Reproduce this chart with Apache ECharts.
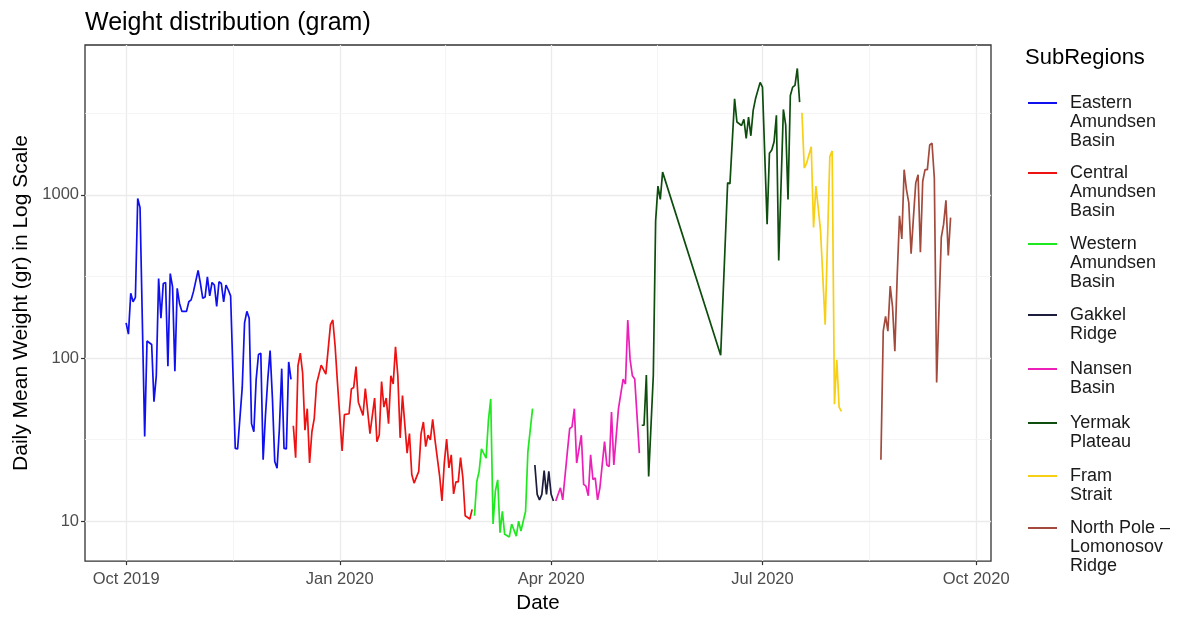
<!DOCTYPE html>
<html><head><meta charset="utf-8">
<script src="https://cdn.jsdelivr.net/npm/echarts@6/dist/echarts.min.js"></script>
<style>html,body{margin:0;padding:0;background:#fff}#c{width:1179px;height:619px}</style>
</head><body><div id="c"></div>
<script>
// ---- data: [day offset from 2019-10-01, daily mean weight (g)] ----
const START = [2019, 9, 1];
const regionNames = ['Eastern Amundsen Basin','Central Amundsen Basin','Western Amundsen Basin','Gakkel Ridge','Nansen Basin','Yermak Plateau','Fram Strait','North Pole – Lomonosov Ridge'];
const regionLabels = ['Eastern\nAmundsen\nBasin','Central\nAmundsen\nBasin','Western\nAmundsen\nBasin','Gakkel\nRidge','Nansen\nBasin','Yermak\nPlateau','Fram\nStrait','North Pole –\nLomonosov\nRidge'];
const regionColors = ['#1010ee','#ee1111','#1ee81e','#1c1c3c','#ec1fb8','#0d4d0d','#f7cf14','#a24a3c'];

const eastern = [[0,164],[1,140],[2,249],[3,221],[4,235],[5,950],[6,834],[8,33],[9,127],[11,121],[12,54],[13,78],[14,307],[15,175],[16,286],[17,290],[18,89],[19,329],[20,273],[21,83],[22,267],[23,216],[24,193],[26,193],[27,221],[28,227],[29,255],[31,344],[32,286],[33,232],[34,236],[35,314],[36,240],[37,290],[38,280],[39,207],[40,293],[41,286],[42,221],[43,280],[44,261],[45,240],[47,27.9],[48,27.7],[50,66],[51,164],[52,193],[53,175],[54,39.6],[55,35.3],[56,74],[57,105],[58,107],[59,23.8],[60,44.4],[61,74],[62,111],[63,56.6],[64,23.2],[65,21.1],[66,37],[67,86],[68,27.9],[69,27.7],[70,94.6],[71,74]];
const central = [[72,38.4],[73,24.5],[74,89.6],[75,107],[76,81],[77,36.1],[78,48.9],[79,22.7],[80,35.3],[81,42.5],[82,69.2],[84,90.4],[86,79.6],[88,160],[89,171],[90,118],[91,70.8],[93,26.9],[94,45],[96,45.5],[97,64.6],[98,66],[99,88.5],[100,53.6],[102,44.5],[103,65],[105,34.4],[107,56.8],[108,30.7],[109,33.7],[110,71.6],[111,50],[112,56.8],[113,39.6],[114,77.8],[115,69.2],[116,117],[117,77.8],[118,32.4],[119,58.9],[121,26.1],[122,34.4],[123,19.3],[124,17.1],[126,20.2],[127,34.4],[128,40.5],[129,28.6],[130,33.7],[131,31.5],[132,42],[133,31.5],[135,18.9],[136,13.3],[137,22.7],[138,31.8],[139,21.2],[140,25.5],[141,14.7],[142,17.4],[143,17.4],[144,24.5],[145,18.4],[146,10.8],[148,10.3],[149,11.8]];
const western = [[150,10.8],[151,17.5],[152,20.2],[153,27.7],[155,24.3],[156,41.5],[157,56.1],[158,9.6],[159,15.3],[160,17.9],[161,8.5],[162,11.5],[163,8.3],[165,8.0],[166,9.6],[168,8.1],[169,10],[170,8.7],[172,11.5],[173,26.7],[175,48.9]];
const gakkel = [[176,22.1],[177,14.6],[178,13.5],[179,14.6],[180,20.4],[181,14.6],[182,20.2],[183,14.6],[184,13.3]];
const nansen = [[185,13.3],[187,16],[188,13.5],[190,26.7],[191,37],[192,37.8],[193,48.9],[194,22.7],[196,33.6],[197,16.8],[198,16.4],[199,14.3],[200,25.5],[201,18],[202,18.4],[203,13.5],[204,16],[206,30.7],[207,22.1],[208,21.6],[209,46.7],[210,22.1],[212,48.9],[213,60.3],[214,74.3],[215,69.2],[216,171],[217,98],[218,77.8],[219,74.3],[221,26.1]];
const yermak = [[222,38.7],[223,38.7],[224,78.5],[225,18.8],[227,78],[228,692],[229,1130],[230,937],[231,1377],[256,104],[259,1183],[260,1170],[262,3873],[263,2792],[265,2660],[266,2904],[267,2214],[268,2990],[269,2300],[270,3290],[271,3873],[273,4886],[274,4570],[276,661],[277,1800],[278,1880],[279,2114],[280,3070],[281,396],[283,3336],[284,2683],[285,937],[286,4055],[287,4570],[288,4680],[289,5945],[290,3700]];
const fram = [[291,3185],[292,1458],[293,1563],[295,1972],[296,631],[297,1130],[298,834],[299,603],[301,160],[303,1714],[304,1858],[305,52],[306,97.5],[307,50],[308,47]];
const northPole = [[325,23.8],[326,146],[327,180],[328,146],[329,276],[330,206],[331,110],[332,314],[333,743],[334,536],[335,1425],[336,1077],[337,895],[338,435],[339,725],[340,1183],[341,1327],[342,445],[343,1210],[344,1425],[345,1425],[346,2018],[347,2070],[348,1268],[349,70.8],[351,548],[352,661],[353,925],[354,425],[355,725]];
const regionData = [eastern, central, western, gakkel, nansen, yermak, fram, northPole];

// ---- axes ----
const xTickDays = [0, 92, 183, 274, 366];
const xTickLabels = ['Oct 2019', 'Jan 2020', 'Apr 2020', 'Jul 2020', 'Oct 2020'];
const xMinorDays = [46, 137.5, 228.5, 320];
const xRangeDays = [-17.7, 372.4];
const yTickValues = [10, 100, 1000];
const yMinorValues = [31.62, 316.2, 3162];
const yRange = [5.69, 8280];

const FONT = "'Liberation Sans', Arial, sans-serif";
const toTime = d => Date.UTC(START[0], START[1], START[2]) + d * 86400000;
const xTickTimes = xTickDays.map(toTime);

const gridLines = [];
xTickDays.forEach(d => gridLines.push({xAxis: toTime(d), lineStyle: {color: '#ebebeb', width: 1.3}}));
xMinorDays.forEach(d => gridLines.push({xAxis: toTime(d), lineStyle: {color: '#f2f2f2', width: 0.8}}));
yTickValues.forEach(v => gridLines.push({yAxis: v, lineStyle: {color: '#ebebeb', width: 1.3}}));
yMinorValues.forEach(v => gridLines.push({yAxis: v, lineStyle: {color: '#f2f2f2', width: 0.8}}));

const series = regionNames.map((name, i) => {
  const s = {
    name, type: 'line', symbol: 'none', showSymbol: false, smooth: false,
    data: regionData[i].map(p => [toTime(p[0]), p[1]]),
    lineStyle: {color: regionColors[i], width: 1.7},
    itemStyle: {color: regionColors[i]},
    emphasis: {disabled: true}, z: 3
  };
  if (i === 0) {
    s.markLine = {silent: true, symbol: 'none', z: 1, animation: false, label: {show: false},
      lineStyle: {type: 'solid'}, data: gridLines};
  }
  return s;
});

const LH = 19;
const legendFirstY = [103, 173, 244, 315, 369, 423, 476, 528];
const legends = regionNames.map((name, i) => {
  const n = regionLabels[i].split('\n').length;
  const pad = '\n'.repeat(n - 1);
  return {
    data: [name], left: 1028, top: legendFirstY[i] - (2 * n - 1) * LH / 2,
    orient: 'vertical', icon: 'rect', itemWidth: 29, itemHeight: 2, padding: 0,
    selectedMode: false,
    formatter: () => pad + regionLabels[i],
    textStyle: {fontFamily: FONT, fontSize: 18, lineHeight: LH, color: '#1a1a1a', padding: [0, 0, 0, 8]}
  };
});

const chart = echarts.init(document.getElementById('c'), null, {renderer: 'canvas'});
chart.setOption({
  animation: false,
  backgroundColor: '#ffffff',
  title: [
    {text: 'Weight distribution (gram)', left: 85, top: 11, padding: 0, textStyle: {fontFamily: FONT, fontSize: 25, fontWeight: 'normal', color: '#000'}},
    {text: 'SubRegions', left: 1025, top: 47, padding: 0, textStyle: {fontFamily: FONT, fontSize: 22, fontWeight: 'normal', color: '#000'}}
  ],
  legend: legends,
  grid: {left: 85, top: 45, width: 906, height: 522, show: true, borderColor: '#333333', borderWidth: 1.3, backgroundColor: 'transparent'},
  xAxis: {
    type: 'value', min: toTime(xRangeDays[0]), max: toTime(xRangeDays[1]),
    name: 'Date', nameLocation: 'middle', nameGap: 30,
    nameTextStyle: {fontFamily: FONT, fontSize: 20.5, color: '#000'},
    axisLine: {show: false},
    axisTick: {show: true, length: 4, customValues: xTickTimes, lineStyle: {color: '#333', width: 1.2}},
    axisLabel: {customValues: xTickTimes, margin: 10, fontFamily: FONT, fontSize: 16.5, color: '#4d4d4d',
      formatter: v => { const k = xTickTimes.indexOf(v); return k >= 0 ? xTickLabels[k] : ''; }},
    splitLine: {show: false}
  },
  yAxis: {
    type: 'log', logBase: 10, min: yRange[0], max: yRange[1],
    name: 'Daily Mean Weight (gr) in Log Scale', nameLocation: 'middle', nameGap: 52,
    nameTextStyle: {fontFamily: FONT, fontSize: 21, color: '#000'},
    axisLine: {show: false},
    axisTick: {show: true, length: 4, customValues: yTickValues, lineStyle: {color: '#333', width: 1.2}},
    axisLabel: {customValues: yTickValues, margin: 6, fontFamily: FONT, fontSize: 16.5, color: '#4d4d4d',
      formatter: v => String(Math.round(v))},
    splitLine: {show: false}
  },
  series
});
</script></body></html>
